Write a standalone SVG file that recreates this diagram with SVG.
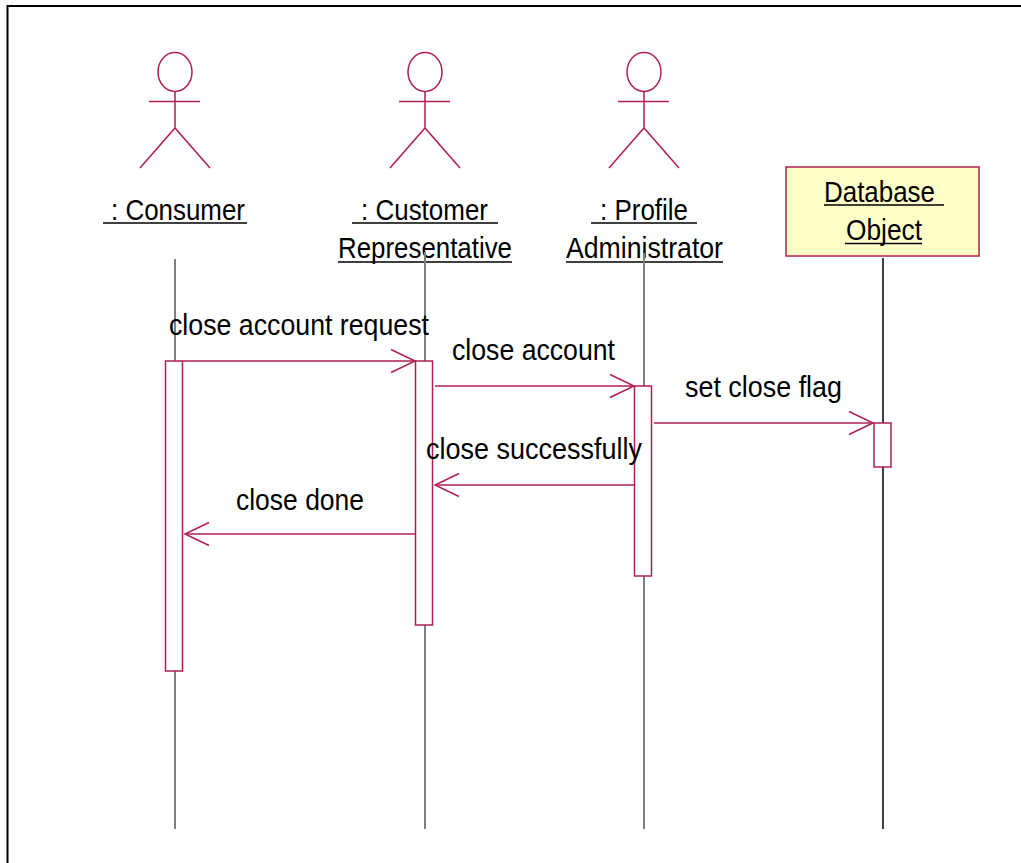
<svg xmlns="http://www.w3.org/2000/svg" width="1021" height="863" viewBox="0 0 1021 863">
<style>
.frame{stroke:#000;stroke-width:2;fill:none}
.actor{stroke:#B0204F;stroke-width:1.5;fill:none}
.lbl{font-family:"Liberation Sans",Arial,sans-serif;font-size:30px;fill:#000}
.ul{stroke:#000;stroke-width:1.5}
.life{stroke:#808080;stroke-width:2}
.lifeb{stroke:#000;stroke-width:1.5}
.act{stroke:#B0204F;stroke-width:1.5;fill:#fff}
.msg{stroke:#B0204F;stroke-width:1.5;fill:none}
.obj{stroke:#B0204F;stroke-width:1.5;fill:#FFFFC8}
</style>
<defs>
<marker id="open" markerUnits="userSpaceOnUse" viewBox="-26 -13 28 26" markerWidth="28" markerHeight="26" refX="0" refY="0" orient="auto">
<path d="M-24,-11.5 L0,0 L-24,11.5" fill="none" stroke="#B0204F" stroke-width="1.5"/>
</marker>
</defs>
<rect width="1021" height="863" fill="#fff"/>
<path class="frame" d="M7.5,863 L7.5,6 L1021,6"/>

<g id="consumer">
<ellipse class="actor" cx="175" cy="72" rx="17" ry="19.5"/>
<path class="actor" d="M149,101.5 H200 M175,91.5 V128 M140,168 L175,128 L210,168"/>
<text class="lbl" x="111" y="220" textLength="134" lengthAdjust="spacingAndGlyphs">: Consumer</text>
<line class="ul" x1="103" y1="223" x2="247" y2="223"/>
<line class="life" x1="175" y1="259" x2="175" y2="829"/>
<rect class="act" x="165.5" y="361" width="17" height="310"/>
</g>

<g id="customer-representative">
<ellipse class="actor" cx="425" cy="72" rx="17" ry="19.5"/>
<path class="actor" d="M399,101.5 H450 M425,91.5 V128 M390,168 L425,128 L460,168"/>
<text class="lbl" x="361" y="220" textLength="127" lengthAdjust="spacingAndGlyphs">: Customer</text>
<line class="ul" x1="352" y1="223" x2="498" y2="223"/>
<text class="lbl" x="338" y="258" textLength="174" lengthAdjust="spacingAndGlyphs">Representative</text>
<line class="ul" x1="338" y1="262" x2="512" y2="262"/>
<line class="life" x1="425" y1="252" x2="425" y2="829"/>
<rect class="act" x="415.5" y="361" width="17" height="264"/>
</g>

<g id="profile-administrator">
<ellipse class="actor" cx="644" cy="72" rx="17" ry="19.5"/>
<path class="actor" d="M618,101.5 H669 M644,91.5 V128 M609,168 L644,128 L679,168"/>
<text class="lbl" x="600" y="220" textLength="88" lengthAdjust="spacingAndGlyphs">: Profile</text>
<line class="ul" x1="591" y1="223" x2="697" y2="223"/>
<text class="lbl" x="566" y="258" textLength="157" lengthAdjust="spacingAndGlyphs">Administrator</text>
<line class="ul" x1="566" y1="262" x2="723" y2="262"/>
<line class="life" x1="644" y1="253" x2="644" y2="829"/>
<rect class="act" x="634.5" y="386" width="17" height="190"/>
</g>

<g id="database-object">
<rect class="obj" x="786" y="167" width="193" height="89"/>
<text class="lbl" x="824" y="201.5" textLength="111" lengthAdjust="spacingAndGlyphs">Database</text>
<line class="ul" x1="824" y1="205" x2="944" y2="205"/>
<text class="lbl" x="846" y="240" textLength="76" lengthAdjust="spacingAndGlyphs">Object</text>
<line class="ul" x1="845" y1="243.5" x2="922" y2="243.5"/>
<line class="lifeb" x1="883" y1="258" x2="883" y2="829"/>
<rect class="act" x="874" y="423" width="17" height="44"/>
</g>

<g id="connectors">
<line class="msg" x1="183" y1="361" x2="415" y2="361" marker-end="url(#open)"/>
<text class="lbl" x="169" y="335" textLength="260" lengthAdjust="spacingAndGlyphs">close account request</text>
<line class="msg" x1="435" y1="386" x2="634" y2="386" marker-end="url(#open)"/>
<text class="lbl" x="452" y="360" textLength="163" lengthAdjust="spacingAndGlyphs">close account</text>
<line class="msg" x1="654" y1="423" x2="873" y2="423" marker-end="url(#open)"/>
<text class="lbl" x="685" y="396.5" textLength="157" lengthAdjust="spacingAndGlyphs">set close flag</text>
<line class="msg" x1="634" y1="485" x2="435" y2="485" marker-end="url(#open)"/>
<text class="lbl" x="426" y="459" textLength="216" lengthAdjust="spacingAndGlyphs">close successfully</text>
<line class="msg" x1="415" y1="534" x2="185" y2="534" marker-end="url(#open)"/>
<text class="lbl" x="236" y="510" textLength="128" lengthAdjust="spacingAndGlyphs">close done</text>
</g>
</svg>
